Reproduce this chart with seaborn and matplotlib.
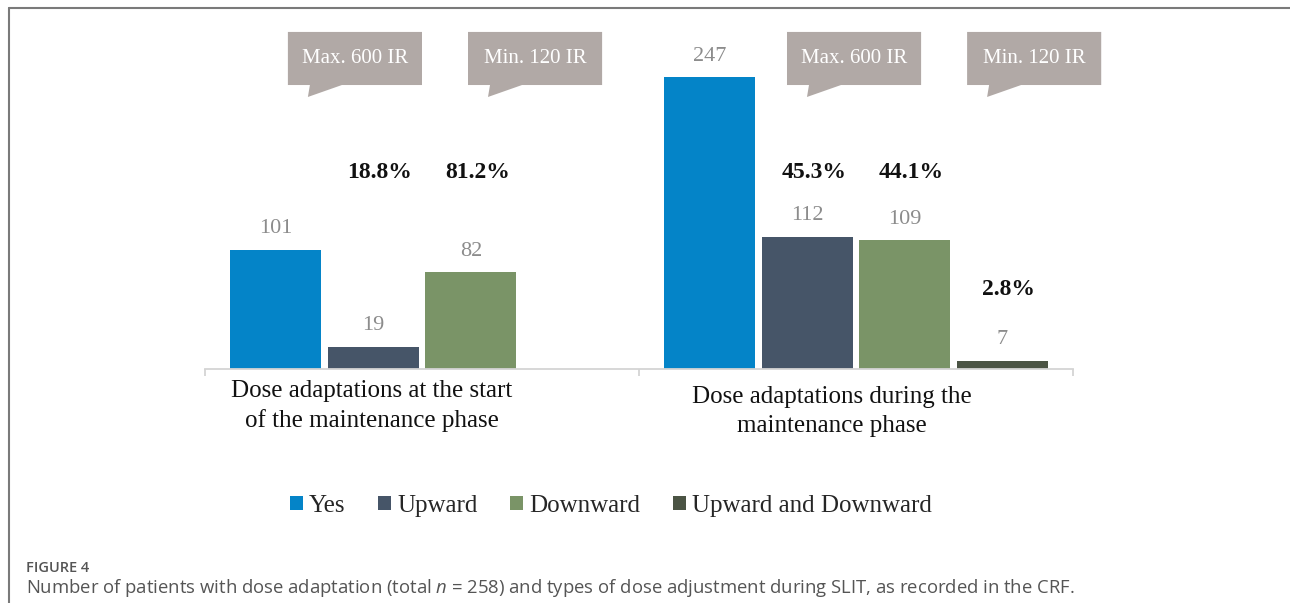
import numpy as np
import pandas as pd
import matplotlib
matplotlib.use("Agg")
import matplotlib.pyplot as plt
from matplotlib.lines import Line2D
from matplotlib.patches import Polygon, Patch
import seaborn as sns

# data
phases = ["Dose adaptations at the start\nof the maintenance phase",
          "Dose adaptations during the\nmaintenance phase"]
types = ["Yes", "Upward", "Downward", "Upward and Downward"]
start_counts = [101, 19, 82]          # no "Upward and Downward" bar here
during_counts = [247, 112, 109, 7]
colors = ["#0484c8", "#465568", "#7a9467", "#4b5444"]

# percentages written above the bars: (phase index, type)
pct_texts = ["18.8%", "81.2%", "45.3%", "44.1%", "2.8%"]
pct_bars = [(0, "Upward"), (0, "Downward"), (1, "Upward"), (1, "Downward"),
            (1, "Upward and Downward")]

callout_texts = ["Max. 600 IR", "Min. 120 IR", "Max. 600 IR", "Min. 120 IR"]

rows = []
for t, v in zip(types, start_counts):
    rows.append({"phase": phases[0], "type": t, "count": v})
for t, v in zip(types, during_counts):
    rows.append({"phase": phases[1], "type": t, "count": v})
df = pd.DataFrame(rows)

sns.set_style("white")
plt.rcParams["font.family"] = ["Liberation Serif", "DejaVu Serif"]
plt.rcParams["mathtext.fontset"] = "custom"
plt.rcParams["mathtext.it"] = "Open Sans:italic"
plt.rcParams["mathtext.rm"] = "Open Sans"

W, H = 1290, 603
fig = plt.figure(figsize=(W / 100, H / 100), dpi=100)
ax = fig.add_axes([205 / W, (H - 369) / H, (1073 - 205) / W, (369 - 20) / H])

sns.barplot(data=df, x="phase", y="count", hue="type", hue_order=types,
            palette=colors, saturation=1, width=0.9, gap=0.07, linewidth=0,
            legend=False, ax=ax)

ax.set_xlim(-0.5, 1.5)
ax.set_ylim(0, 295.2)
for s in ["left", "right", "top"]:
    ax.spines[s].set_visible(False)
ax.spines["bottom"].set_color("#d4d4d4")
ax.spines["bottom"].set_linewidth(1.3)
ax.set_yticks([])
ax.set_xticks([-0.5, 0.5, 1.5])
ax.set_xticklabels([])
ax.tick_params(axis="x", direction="out", length=5, width=1.3, color="#d4d4d4",
               bottom=True)
ax.set_xlabel("")
ax.set_ylabel("")

# value labels above bars, collect bar centres
bar_pos = {}
for cont, t in zip(ax.containers, types):
    for b in cont:
        h = b.get_height()
        if np.isnan(h):
            continue
        xc = b.get_x() + b.get_width() / 2
        bar_pos[(int(round(xc)), t)] = (xc, h)
        ax.annotate(f"{int(h)}", (xc, h), xytext=(0, 15), textcoords="offset points",
                    ha="center", va="center", fontsize=16, color="#8c8c8c")

# bold percentages
for txt, key in zip(pct_texts, pct_bars):
    xc, h = bar_pos[key]
    y = h + 60 if key[1] == "Upward and Downward" else 166.6
    ax.text(xc + 0.015, y, txt, ha="center", va="center", fontsize=17,
            fontweight="bold", color="#111111")

# speech-bubble callouts
box_w, box_top, box_bot, tip_y = 0.309, 285.1, 240.2, 230.1
for txt, left in zip(callout_texts, [-0.309, 0.106, 0.841, 1.256]):
    px = 1 / 434
    verts = [(left, box_top), (left + box_w, box_top), (left + box_w, box_bot),
             (left + 54 * px, box_bot), (left + 20 * px, tip_y),
             (left + 22 * px, box_bot), (left, box_bot)]
    ax.add_patch(Polygon(verts, closed=True, facecolor="#b1a9a6",
                         edgecolor="none", clip_on=False))
    ax.text(left + box_w / 2, (box_top + box_bot) / 2, txt, ha="center",
            va="center", fontsize=15, color="white")

# category labels
ax.text(-0.115, -31, phases[0], ha="center", va="center", fontsize=18,
        linespacing=1.4, color="#111111", clip_on=False)
ax.text(0.945, -36, phases[1], ha="center", va="center", fontsize=18,
        linespacing=1.4, color="#111111", clip_on=False)

# legend
handles = [Patch(facecolor=c, edgecolor="none", label=t) for c, t in zip(colors, types)]
fig.legend(handles=handles, loc="center", bbox_to_anchor=(611 / W, 1 - 506 / H),
           ncol=4, frameon=False, fontsize=18, handlelength=0.52,
           handleheight=0.52, handletextpad=0.25, columnspacing=1.3)

# frame lines
fig.add_artist(Line2D([9 / W, 1], [1 - 8 / H, 1 - 8 / H], transform=fig.transFigure,
                      color="#7a7a7a", lw=1.5))
fig.add_artist(Line2D([9 / W, 9 / W], [0, 1 - 8 / H], transform=fig.transFigure,
                      color="#7a7a7a", lw=1.5))

# caption
fig.text(26 / W, 1 - 568 / H, "FIGURE 4", fontsize=10.5, color="#555555",
         va="center", family="Open Sans", fontweight="semibold")
fig.text(26 / W, 1 - 588 / H,
         "Number of patients with dose adaptation (total $n$ = 258) and types of "
         "dose adjustment during SLIT, as recorded in the CRF.",
         fontsize=13.3, color="#555555", va="center", family="Open Sans")

fig.savefig("out.png", dpi=100)
